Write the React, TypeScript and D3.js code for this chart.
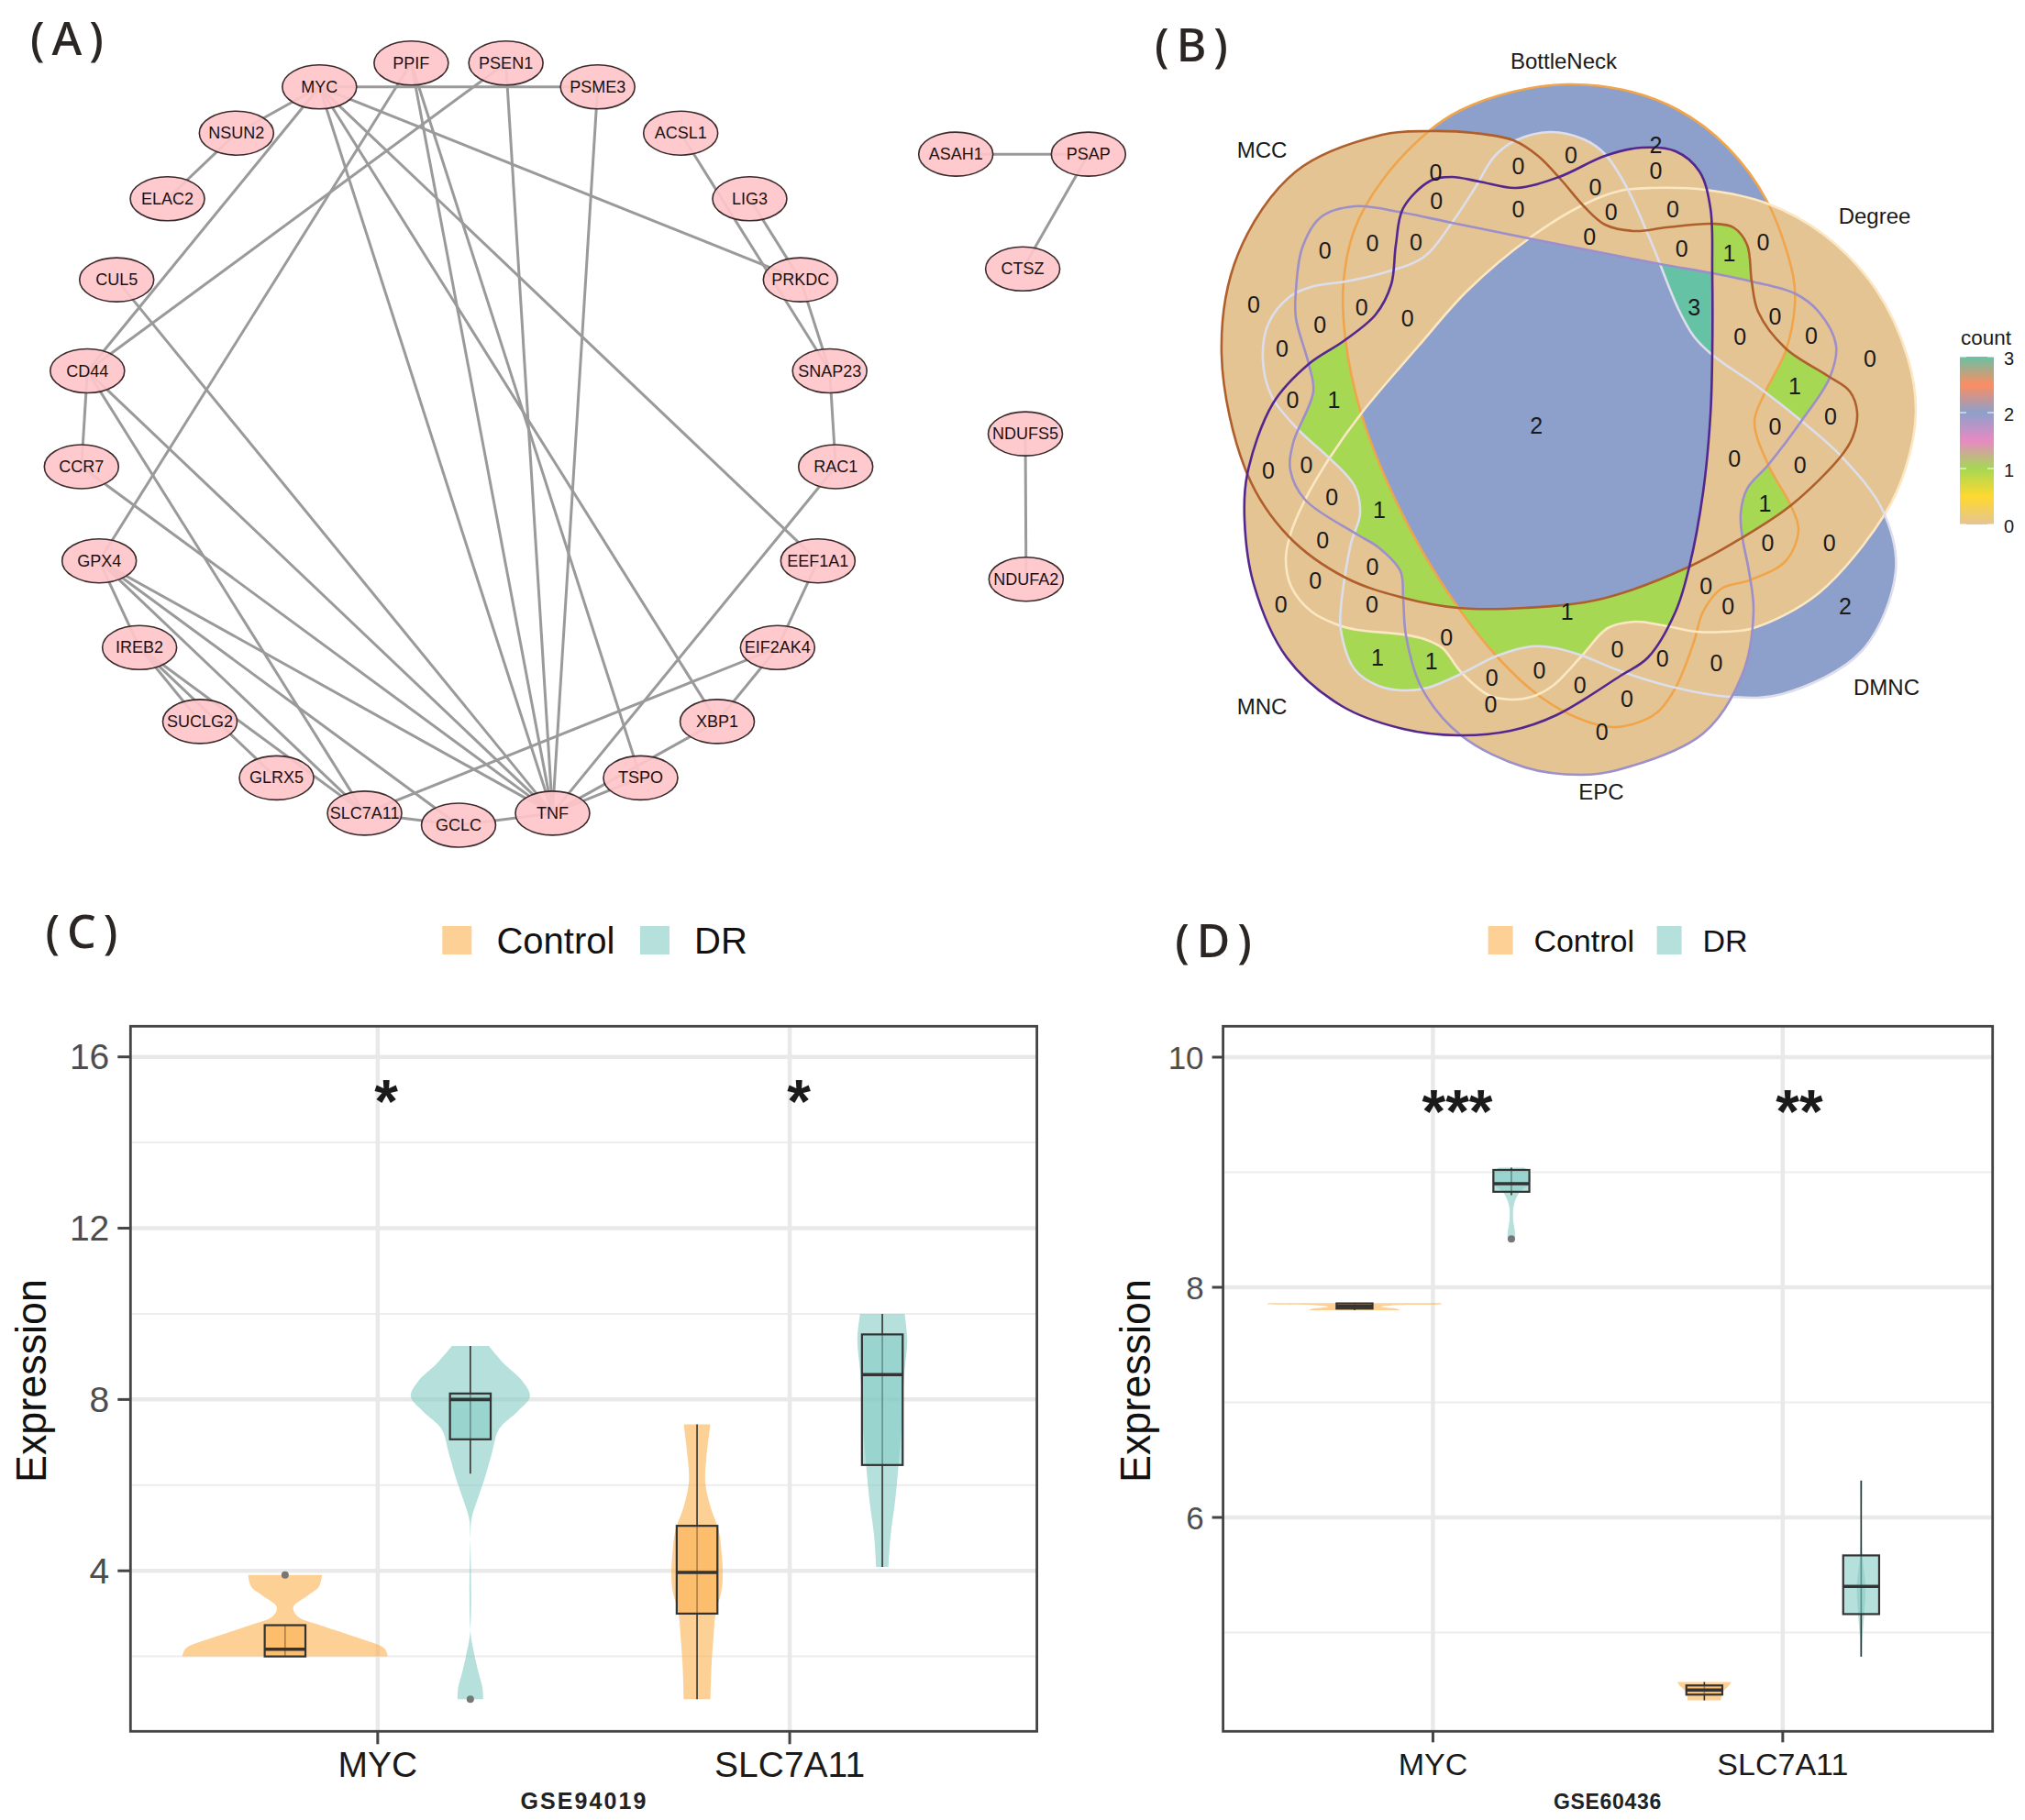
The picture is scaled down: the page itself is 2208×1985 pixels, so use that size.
import React from 'react';
import * as d3 from 'd3';

type Pt = [number, number];

const FONT = '"Liberation Sans", Arial, sans-serif';

// ---------- (A) network ----------
const circleNodes = ['GCLC', 'TNF', 'TSPO', 'XBP1', 'EIF2AK4', 'EEF1A1', 'RAC1', 'SNAP23', 'PRKDC', 'LIG3', 'ACSL1', 'PSME3', 'PSEN1', 'PPIF', 'MYC', 'NSUN2', 'ELAC2', 'CUL5', 'CD44', 'CCR7', 'GPX4', 'IREB2', 'SUCLG2', 'GLRX5', 'SLC7A11'];
const sideNodes: [string, number, number][] = [['ASAH1', 1.316, -0.754], ['PSAP', 1.667, -0.754], ['CTSZ', 1.493, -0.454], ['NDUFS5', 1.5, -0.023], ['NDUFA2', 1.502, 0.357]];
const edges: [string, string][] = [
  ['MYC', 'PSME3'], ['MYC', 'NSUN2'], ['NSUN2', 'ELAC2'], ['MYC', 'CD44'], ['MYC', 'PRKDC'], ['MYC', 'TNF'], ['MYC', 'XBP1'], ['MYC', 'EEF1A1'],
  ['PPIF', 'GPX4'], ['PPIF', 'TNF'], ['PPIF', 'TSPO'], ['PSEN1', 'CD44'], ['PSEN1', 'TNF'], ['PSME3', 'TNF'],
  ['ACSL1', 'SNAP23'], ['LIG3', 'PRKDC'], ['PRKDC', 'SNAP23'], ['SNAP23', 'RAC1'], ['RAC1', 'TNF'],
  ['EEF1A1', 'EIF2AK4'], ['EIF2AK4', 'XBP1'], ['EIF2AK4', 'SLC7A11'], ['XBP1', 'TNF'], ['TSPO', 'TNF'],
  ['CUL5', 'TNF'], ['CD44', 'CCR7'], ['CD44', 'TNF'], ['CD44', 'SLC7A11'], ['CCR7', 'TNF'],
  ['GPX4', 'IREB2'], ['GPX4', 'TNF'], ['GPX4', 'GCLC'], ['GPX4', 'SLC7A11'],
  ['IREB2', 'SUCLG2'], ['IREB2', 'GLRX5'], ['IREB2', 'SLC7A11'], ['SLC7A11', 'GCLC'], ['GCLC', 'TNF'],
  ['ASAH1', 'PSAP'], ['PSAP', 'CTSZ'], ['NDUFS5', 'NDUFA2'],
];

const netX = d3.scaleLinear().domain([-1, 1]).range([88, 912]);
const netY = d3.scaleLinear().domain([-1, 1]).range([65.5, 900]);

const nodePos = new Map<string, Pt>();
circleNodes.forEach((n, i) => {
  const a = (i / circleNodes.length) * 2 * Math.PI;
  nodePos.set(n, [netX(Math.sin(a)), netY(Math.cos(a))]);
});
sideNodes.forEach(([n, x, y]) => nodePos.set(n, [netX(x), netY(y)]));

// ---------- (B) venn outlines, traced ----------
const bottleNeckPts: Pt[] = [[1593, 120], [1650, 100], [1708, 92], [1770, 98], [1830, 120], [1883, 160], [1927, 220], [1955, 300], [1957, 333], [1947, 383], [1925, 427], [1913, 460], [1928, 507], [1953, 552], [1961, 578], [1947, 612], [1907, 633], [1877, 642], [1857, 667], [1847, 700], [1827, 750], [1807, 777], [1780, 790], [1757, 793], [1720, 783], [1677, 758], [1633, 717], [1593, 667], [1550, 600], [1510, 520], [1483, 447], [1467, 370], [1465, 307], [1477, 250], [1507, 197], [1558, 143]];
const degreePts: Pt[] = [[1800, 205], [1860, 207], [1927, 222], [1990, 257], [2045, 315], [2080, 390], [2089, 450], [2078, 510], [2055, 561], [1983, 647], [1912, 685], [1880, 689], [1850, 689], [1813, 682], [1783, 678], [1753, 685], [1725, 715], [1693, 748], [1670, 760], [1647, 763], [1623, 758], [1593, 733], [1573, 707], [1553, 697], [1530, 692], [1480, 687], [1460, 682], [1430, 667], [1408, 640], [1402, 610], [1407, 583], [1423, 545], [1450, 499], [1485, 450], [1547, 377], [1600, 317], [1670, 258], [1727, 223], [1767, 208]];
const dmncPts: Pt[] = [[1690, 144], [1727, 152], [1750, 168], [1773, 203], [1800, 263], [1830, 337], [1847, 367], [1867, 387], [1917, 422], [1963, 458], [2007, 497], [2053, 557], [2067, 623], [2030, 710], [1943, 757], [1887, 760], [1827, 750], [1767, 732], [1725, 715], [1697, 707], [1670, 705], [1633, 715], [1593, 735], [1557, 750], [1530, 753], [1503, 748], [1477, 730], [1462, 687], [1462, 663], [1473, 593], [1483, 560], [1477, 530], [1450, 500], [1417, 470], [1387, 433], [1377, 393], [1383, 353], [1407, 323], [1433, 312], [1467, 307], [1507, 298], [1553, 280], [1583, 243], [1607, 207], [1630, 170], [1653, 153]];
const epcPts: Pt[] = [[1413, 317], [1420, 270], [1440, 237], [1477, 225], [1530, 232], [1583, 243], [1667, 260], [1733, 273], [1810, 288], [1867, 298], [1910, 307], [1957, 320], [1983, 340], [2002, 377], [1995, 412], [1965, 458], [1928, 507], [1905, 533], [1898, 560], [1900, 587], [1907, 623], [1912, 667], [1900, 735], [1857, 800], [1763, 840], [1723, 845], [1663, 837], [1593, 802], [1550, 750], [1533, 693], [1530, 653], [1527, 623], [1503, 597], [1480, 583], [1423, 545], [1407, 513], [1410, 483], [1432, 427], [1427, 397], [1413, 347]];
const mncPts: Pt[] = [[1360, 517], [1388, 440], [1427, 397], [1465, 372], [1500, 343], [1517, 310], [1522, 267], [1530, 227], [1560, 197], [1583, 193], [1613, 198], [1653, 205], [1700, 193], [1750, 170], [1790, 161], [1827, 165], [1853, 187], [1865, 227], [1867, 297], [1867, 387], [1865, 453], [1857, 537], [1842, 618], [1827, 667], [1797, 717], [1767, 737], [1697, 780], [1647, 797], [1590, 802], [1530, 795], [1463, 770], [1403, 717], [1367, 637], [1357, 567]];
const mccPts: Pt[] = [[1558, 143], [1607, 145], [1650, 153], [1677, 170], [1703, 197], [1727, 225], [1750, 245], [1783, 252], [1817, 248], [1867, 244], [1890, 248], [1905, 267], [1910, 307], [1917, 340], [1947, 380], [1993, 410], [2017, 427], [2025, 450], [2020, 477], [2007, 498], [1953, 551], [1897, 588], [1842, 618], [1747, 653], [1663, 663], [1590, 663], [1530, 652], [1467, 630], [1405, 585], [1360, 517], [1332, 387], [1350, 277], [1413, 187], [1507, 147]];

const vennSets = [
  { key: 'B', name: 'BottleNeck', pts: bottleNeckPts, stroke: '#F0A54A', label: [1705, 66] },
  { key: 'De', name: 'Degree', pts: degreePts, stroke: '#FBE7C2', label: [2044, 235] },
  { key: 'Dm', name: 'DMNC', pts: dmncPts, stroke: '#DDDEEC', label: [2057, 749] },
  { key: 'E', name: 'EPC', pts: epcPts, stroke: '#9D8FC9', label: [1746, 863] },
  { key: 'Mc', name: 'MCC', pts: mccPts, stroke: '#AF5F2C', label: [1376, 163] },
  { key: 'Mn', name: 'MNC', pts: mncPts, stroke: '#54278F', label: [1376, 770] },
];

// regions with a non-zero count: in which sets, out of which sets
const vennRegions: { inside: string[]; outside: string[]; count: number }[] = [
  { inside: ['B'], outside: ['De', 'Dm', 'E', 'Mc', 'Mn'], count: 2 },
  { inside: ['Dm'], outside: ['B', 'De', 'E', 'Mc', 'Mn'], count: 2 },
  { inside: ['B', 'De', 'Dm', 'E', 'Mc', 'Mn'], outside: [], count: 2 },
  { inside: ['B', 'De', 'E', 'Mc', 'Mn'], outside: ['Dm'], count: 3 },
  { inside: ['B', 'De', 'Mc'], outside: ['Mn', 'E', 'Dm'], count: 1 },
  { inside: ['De', 'Mc', 'E'], outside: ['B', 'Dm', 'Mn'], count: 1 },
  { inside: ['B', 'De', 'Dm', 'Mc'], outside: ['E', 'Mn'], count: 1 },
  { inside: ['Mn', 'E', 'Dm', 'Mc'], outside: ['B', 'De'], count: 1 },
  { inside: ['De', 'Mn', 'E', 'Dm', 'Mc'], outside: ['B'], count: 1 },
  { inside: ['B', 'De', 'Dm', 'E', 'Mn'], outside: ['Mc'], count: 1 },
  { inside: ['Dm', 'Mn'], outside: ['B', 'De', 'E', 'Mc'], count: 1 },
  { inside: ['Dm', 'Mn', 'E'], outside: ['B', 'De', 'Mc'], count: 1 },
];

// count labels: [x, y, count] in crop units
const vennCounts: [number, number, number][] = [
  [528, 328, 0], [674, 315, 0], [767, 295, 0], [917, 275, 2], [917, 325, 0], [529, 382, 0], [674, 397, 0], [810, 355, 0], [838, 403, 0], [947, 397, 0],
  [332, 476, 0], [416, 463, 0], [493, 460, 0], [800, 450, 0], [963, 472, 0], [1047, 482, 1], [1107, 461, 0], [206, 580, 0], [397, 584, 0], [323, 617, 0],
  [478, 606, 0], [985, 585, 3], [1128, 602, 0], [1066, 640, 0], [1192, 638, 0], [1296, 682, 0], [256, 663, 0], [275, 760, 0], [348, 760, 1], [1163, 735, 1],
  [1226, 792, 0], [706, 810, 2], [1128, 812, 0], [232, 895, 0], [299, 885, 0], [344, 945, 0], [428, 970, 1], [1056, 872, 0], [1172, 884, 0], [1110, 958, 1],
  [328, 1028, 0], [1115, 1033, 0], [1224, 1033, 0], [416, 1078, 0], [315, 1105, 0], [1006, 1114, 0], [415, 1150, 0], [254, 1150, 0], [1045, 1153, 0], [1252, 1153, 2],
  [760, 1163, 1], [547, 1212, 0], [849, 1235, 0], [425, 1250, 1], [520, 1257, 1], [929, 1253, 0], [1024, 1262, 0], [627, 1290, 0], [711, 1276, 0], [783, 1303, 0],
  [866, 1330, 0], [625, 1340, 0], [822, 1392, 0],
];

const countTicks = [0, 1, 2, 3];
const countColors = ['#E5C494', '#A6D854', '#8DA0CB', '#66C2A5'];
const gradientStops: [number, string][] = [[0, '#E5C494'], [0.5, '#FFD92F'], [1, '#A6D854'], [1.5, '#E78AC3'], [2, '#8DA0CB'], [2.5, '#FC8D62'], [3, '#66C2A5']];

const labelX = d3.scaleLinear().domain([0, 1570]).range([1240, 2208]);
const labelY = d3.scaleLinear().domain([0, 1570]).range([0, 900]);
const legendY = d3.scaleLinear().domain([0, 3]).range([572, 389]);

// ---------- (C) and (D) violins ----------
interface Violin {
  gene: string;
  group: string;
  density: Pt[];
  q1: number;
  med: number;
  q3: number;
  lo: number;
  hi: number;
  outliers: number[];
}

const genes = ['MYC', 'SLC7A11'];
const groups = ['Control', 'DR'];

const gse94019: Violin[] = [
  { gene: 'MYC', group: 'Control', density: [[3.9, 0.36], [3.63, 0.33], [3.42, 0.22], [3.15, 0.08], [2.94, 0.12], [2.73, 0.34], [2.45, 0.69], [2.18, 0.97], [2.0, 1.0]], q1: 2.0, med: 2.17, q3: 2.73, lo: 2.0, hi: 2.73, outliers: [3.9] },
  { gene: 'MYC', group: 'DR', density: [[9.25, 0.18], [8.83, 0.33], [8.42, 0.51], [8.07, 0.58], [7.72, 0.46], [7.31, 0.28], [6.75, 0.21], [6.2, 0.145], [5.64, 0.066], [5.23, 0.013], [4.81, 0.001], [2.59, 0.001], [2.04, 0.04], [1.62, 0.08], [1.27, 0.118], [1.0, 0.125]], q1: 7.07, med: 8.0, q3: 8.14, lo: 6.27, hi: 9.25, outliers: [1.0] },
  { gene: 'SLC7A11', group: 'Control', density: [[7.42, 0.13], [6.61, 0.09], [6.06, 0.08], [5.5, 0.13], [4.95, 0.21], [4.39, 0.24], [3.98, 0.25], [3.56, 0.24], [3.0, 0.18], [2.45, 0.16], [1.76, 0.14], [1.0, 0.13]], q1: 3.0, med: 3.96, q3: 5.05, lo: 1.0, hi: 7.42, outliers: [] },
  { gene: 'SLC7A11', group: 'DR', density: [[10.0, 0.217], [9.39, 0.243], [8.69, 0.217], [8.0, 0.197], [7.44, 0.19], [6.47, 0.158], [5.64, 0.125], [4.81, 0.08], [4.09, 0.06]], q1: 6.47, med: 8.58, q3: 9.52, lo: 4.09, hi: 10.0, outliers: [] },
];
const gse60436: Violin[] = [
  { gene: 'MYC', group: 'Control', density: [[7.862, 0.98], [7.855, 1.0], [7.845, 0.45], [7.83, 0.3], [7.81, 0.5], [7.8, 0.52]], q1: 7.815, med: 7.835, q3: 7.86, lo: 7.8, hi: 7.86, outliers: [] },
  { gene: 'MYC', group: 'DR', density: [[9.04, 0.15], [8.99, 0.21], [8.9, 0.21], [8.83, 0.1], [8.72, 0.03], [8.59, 0.02], [8.49, 0.04], [8.41, 0.04], [8.39, 0.015]], q1: 8.83, med: 8.9, q3: 9.02, lo: 8.8, hi: 9.04, outliers: [8.42] },
  { gene: 'SLC7A11', group: 'Control', density: [[4.57, 0.31], [4.535, 0.28], [4.48, 0.21], [4.41, 0.19]], q1: 4.46, med: 4.5, q3: 4.54, lo: 4.41, hi: 4.57, outliers: [] },
  { gene: 'SLC7A11', group: 'DR', density: [[6.32, 0.012], [5.67, 0.014], [5.41, 0.05], [5.16, 0.035], [4.95, 0.014], [4.79, 0.01]], q1: 5.16, med: 5.4, q3: 5.67, lo: 4.79, hi: 6.32, outliers: [] },
];

const groupColor: Record<string, string> = { Control: '#FCB150', DR: '#85CBC5' };

const line = d3.line<Pt>().curve(d3.curveCatmullRomClosed.alpha(0.5));

interface PanelProps {
  data: Violin[];
  frame: { left: number; right: number; top: number; bottom: number };
  y: d3.ScaleLinear<number, number>;
  majors: number[];
  minors: number[];
  dodge: number;
  boxHalf: number;
  violinMax: number;
  tickSize: number;
  numSize: number;
  tickLen: number;
  ylabX: number;
  caption: { text: string; x: number; size: number; spacing: number };
  stars: [string, number, number][];
  legend: { sq1: number; text1: number; sq2: number; text2: number; size: number; sqW: number };
}

const ViolinPanel: React.FC<PanelProps> = ({ data, frame, y, majors, minors, dodge, boxHalf, violinMax, tickSize, numSize, tickLen, ylabX, caption, stars, legend }) => {
  const x = d3.scalePoint<string>().domain(genes).range([frame.left, frame.right]).padding(0.6);
  const dx = d3.scalePoint<string>().domain(groups).range([-dodge, dodge]);
  const w = d3.scaleLinear().domain([0, 1]).range([0, violinMax]);
  return (
    <g fontFamily={FONT}>
      {minors.map(t => <line key={t} x1={frame.left} x2={frame.right} y1={y(t)} y2={y(t)} stroke="#EDEDED" strokeWidth={2} />)}
      {majors.map(t => <line key={t} x1={frame.left} x2={frame.right} y1={y(t)} y2={y(t)} stroke="#E9E9E9" strokeWidth={4.5} />)}
      {genes.map(g => <line key={g} x1={x(g)} x2={x(g)} y1={frame.top} y2={frame.bottom} stroke="#E9E9E9" strokeWidth={4.5} />)}
      {data.map(v => {
        const cx = x(v.gene)! + dx(v.group)!;
        const area = d3.area<Pt>().curve(d3.curveCatmullRom.alpha(0.5)).y(d => y(d[0])).x0(d => cx - w(d[1])).x1(d => cx + w(d[1]));
        return (
          <g key={v.gene + v.group}>
            <path d={area(v.density)!} fill={groupColor[v.group]} fillOpacity={0.6} />
            <line x1={cx} x2={cx} y1={y(v.hi)} y2={y(v.lo)} stroke="#333" strokeWidth={1.6} />
            <rect x={cx - boxHalf} width={boxHalf * 2} y={y(v.q3)} height={y(v.q1) - y(v.q3)} fill={groupColor[v.group]} fillOpacity={0.6} stroke="#333" strokeWidth={2.2} />
            <line x1={cx - boxHalf} x2={cx + boxHalf} y1={y(v.med)} y2={y(v.med)} stroke="#333" strokeWidth={3.6} />
            {v.outliers.map(o => <circle key={o} cx={cx} cy={y(o)} r={4} fill="#777" />)}
          </g>
        );
      })}
      {stars.map(([s, sx, sy]) => (
        <text key={s + sx} x={sx} y={y(sy) + 31} textAnchor="middle" fontSize={66} fontWeight="bold" fill="#1A1A1A">{s}</text>
      ))}
      <rect x={frame.left} y={frame.top} width={frame.right - frame.left} height={frame.bottom - frame.top} fill="none" stroke="#444" strokeWidth={2.8} />
      {majors.map(t => (
        <g key={t}>
          <line x1={frame.left - tickLen} x2={frame.left} y1={y(t)} y2={y(t)} stroke="#444" strokeWidth={3} />
          <text x={frame.left - tickLen - 9} y={y(t)} textAnchor="end" dominantBaseline="central" fontSize={numSize} fill="#4D4D4D">{t}</text>
        </g>
      ))}
      {genes.map(g => (
        <g key={g}>
          <line x1={x(g)} x2={x(g)} y1={frame.bottom} y2={frame.bottom + tickLen} stroke="#444" strokeWidth={3} />
          <text x={x(g)} y={frame.bottom + 36} textAnchor="middle" dominantBaseline="central" fontSize={tickSize} fill="#1A1A1A">{g}</text>
        </g>
      ))}
      <text transform={`translate(${ylabX},1506) rotate(-90)`} textAnchor="middle" fontSize={47} textLength={222} lengthAdjust="spacingAndGlyphs" fill="#111">Expression</text>
      <text x={caption.x} y={1973} textAnchor="middle" fontSize={caption.size} fontWeight="bold" letterSpacing={caption.spacing} fill="#222">{caption.text}</text>
      <rect x={legend.sq1} y={1010} width={legend.sqW} height={31} fill="#FCB150" fillOpacity={0.6} />
      <text x={legend.text1} y={1026} dominantBaseline="central" fontSize={legend.size} fill="#111">Control</text>
      <rect x={legend.sq2} y={1010} width={legend.sqW} height={31} fill="#85CBC5" fillOpacity={0.6} />
      <text x={legend.text2} y={1026} dominantBaseline="central" fontSize={legend.size} fill="#111">DR</text>
    </g>
  );
};

const yC = d3.scaleLinear().domain([16, 4]).range([1152.7, 1713.2]);
const yD = d3.scaleLinear().domain([10, 6]).range([1153, 1655]);

const PanelLabel: React.FC<{ t: string; x: number; y: number }> = ({ t, x, y }) => (
  <text x={x} y={y} textAnchor="middle" fontFamily='"Noto Sans", sans-serif' fontSize={50} fontWeight={500} letterSpacing={8} fill="#2B2523">{t}</text>
);

export default function App() {
  return (
    <svg width={2208} height={1985} style={{ position: 'absolute', left: 0, top: 0, display: 'block', background: '#fff' }}>
      <defs>
        {vennSets.map(s => (
          <clipPath key={s.key} id={`clip-${s.key}`}><path d={line(s.pts as Pt[])!} /></clipPath>
        ))}
        {vennRegions.map((r, i) => (
          <mask key={i} id={`mask-${i}`} maskUnits="userSpaceOnUse" x={1240} y={0} width={968} height={900}>
            <rect x={1240} y={0} width={968} height={900} fill="#fff" />
            {r.outside.map(k => <path key={k} d={line(vennSets.find(s => s.key === k)!.pts as Pt[])!} fill="#000" />)}
          </mask>
        ))}
        <linearGradient id="countGrad" x1={0} x2={0} y1={1} y2={0}>
          {gradientStops.map(([v, c]) => <stop key={v} offset={v / 3} stopColor={c} />)}
        </linearGradient>
      </defs>

      {/* A */}
      <PanelLabel t="(A)" x={77} y={60} />
      <g>
        {edges.map(([a, b]) => {
          const p = nodePos.get(a)!;
          const q = nodePos.get(b)!;
          return <line key={a + b} x1={p[0]} y1={p[1]} x2={q[0]} y2={q[1]} stroke="#9A9A9A" strokeWidth={3} />;
        })}
        {[...nodePos.entries()].map(([n, p]) => (
          <g key={n}>
            <ellipse cx={p[0]} cy={p[1]} rx={40.5} ry={24} fill="#FFC6CA" fillOpacity={0.92} stroke="#3A2A2C" strokeWidth={1.6} />
            <text x={p[0]} y={p[1]} textAnchor="middle" dominantBaseline="central" fontFamily={FONT} fontSize={18} fill="#1C1010">{n}</text>
          </g>
        ))}
      </g>

      {/* B */}
      <PanelLabel t="(B)" x={1303} y={67} />
      <g>
        {['B', 'Dm'].map(k => <path key={k} d={line(vennSets.find(s => s.key === k)!.pts as Pt[])!} fill="#8DA0CB" />)}
        {['De', 'E', 'Mc', 'Mn'].map(k => <path key={k} d={line(vennSets.find(s => s.key === k)!.pts as Pt[])!} fill="#E5C494" />)}
        <g clipPath="url(#clip-B)"><path d={line(dmncPts)!} fill="#E5C494" /></g>
        {vennRegions.map((r, i) => {
          let node = <rect x={1240} y={0} width={968} height={900} fill={countColors[r.count]} />;
          r.inside.forEach(k => { node = <g clipPath={`url(#clip-${k})`}>{node}</g>; });
          return <g key={i} mask={`url(#mask-${i})`}>{node}</g>;
        })}
        {vennSets.map(s => <path key={s.key} d={line(s.pts as Pt[])!} fill="none" stroke={s.stroke} strokeWidth={2.6} />)}
        {vennSets.map(s => (
          <text key={s.key} x={s.label[0]} y={s.label[1]} textAnchor="middle" dominantBaseline="central" fontFamily={FONT} fontSize={24} fill="#1A1A1A">{s.name}</text>
        ))}
        {vennCounts.map(([x, y, c], i) => (
          <text key={i} x={labelX(x)} y={labelY(y)} textAnchor="middle" dominantBaseline="central" fontFamily={FONT} fontSize={25} fill="#1A1A1A">{c}</text>
        ))}
        <text x={2138} y={368} dominantBaseline="central" fontFamily={FONT} fontSize={22.5} fill="#1A1A1A">count</text>
        <rect x={2137} y={legendY(3)} width={37} height={legendY(0) - legendY(3)} fill="url(#countGrad)" />
        {countTicks.map(t => (
          <g key={t}>
            <line x1={2137} x2={2144} y1={legendY(t)} y2={legendY(t)} stroke="#fff" strokeWidth={1} />
            <line x1={2167} x2={2174} y1={legendY(t)} y2={legendY(t)} stroke="#fff" strokeWidth={1} />
            <text x={2185} y={legendY(t) + 2} dominantBaseline="central" fontFamily={FONT} fontSize={20} fill="#1A1A1A">{t}</text>
          </g>
        ))}
      </g>

      {/* C */}
      <PanelLabel t="(C)" x={93} y={1034} />
      <ViolinPanel
        data={gse94019}
        frame={{ left: 142.3, right: 1130.6, top: 1119.3, bottom: 1888.3 }}
        y={yC}
        majors={[4, 8, 12, 16]}
        minors={[2, 6, 10, 14]}
        dodge={101}
        boxHalf={22.2}
        violinMax={112}
        tickSize={39}
        numSize={39}
        tickLen={14}
        ylabX={50}
        caption={{ text: 'GSE94019', x: 637, size: 25, spacing: 2.1 }}
        stars={[['*', 421, 15.14], ['*', 871, 15.14]]}
        legend={{ sq1: 482.3, text1: 541.4, sq2: 698, text2: 757, size: 40, sqW: 32 }}
      />

      {/* D */}
      <PanelLabel t="(D)" x={1327} y={1044} />
      <ViolinPanel
        data={gse60436}
        frame={{ left: 1333.6, right: 2172.7, top: 1119.3, bottom: 1888.3 }}
        y={yD}
        majors={[6, 8, 10]}
        minors={[5, 7, 9]}
        dodge={85.5}
        boxHalf={19.6}
        violinMax={95}
        tickSize={34}
        numSize={35}
        tickLen={12}
        ylabX={1254}
        caption={{ text: 'GSE60436', x: 1753, size: 23, spacing: 0.7 }}
        stars={[['***', 1589, 9.59], ['**', 1962, 9.59]]}
        legend={{ sq1: 1622.6, text1: 1672.4, sq2: 1806.6, text2: 1856.4, size: 34, sqW: 27 }}
      />
    </svg>
  );
}
